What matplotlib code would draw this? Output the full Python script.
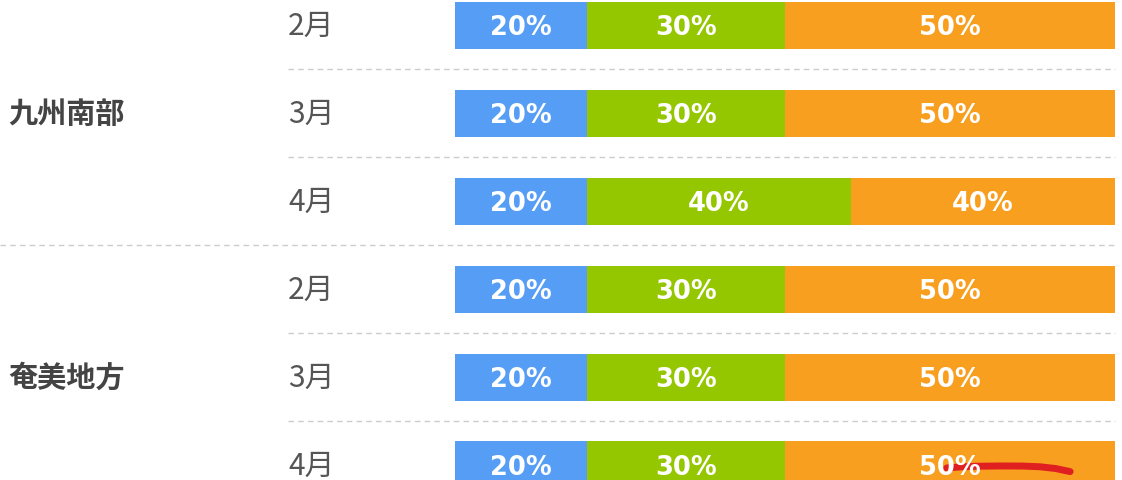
import matplotlib
matplotlib.use("Agg")
import matplotlib.pyplot as plt
import numpy as np

plt.rcParams["font.family"] = ["Noto Sans CJK JP", "DejaVu Sans"]

# data
regions = ["九州南部", "奄美地方"]
months = ["2月", "3月", "4月"]
rows = [("九州南部", "2月"), ("九州南部", "3月"), ("九州南部", "4月"),
        ("奄美地方", "2月"), ("奄美地方", "3月"), ("奄美地方", "4月")]
low = [20, 20, 20, 20, 20, 20]
normal = [30, 30, 40, 30, 30, 30]
high = [50, 50, 40, 50, 50, 50]

colors = ["#559df5", "#95c700", "#f89f1f"]

fig = plt.figure(figsize=(11.22, 4.81), dpi=100)
ax = fig.add_axes([0, 0, 1, 1])
# 660px == 100%, bars start at 455px
ax.set_xlim(-455 / 6.6, (1122 - 455) / 6.6)
row_px = 87.9
ax.set_ylim((481 - 26.5) / row_px, -26.5 / row_px)
ax.axis("off")

y = np.arange(len(rows))
left = np.zeros(len(rows))
for vals, c in zip([low, normal, high], colors):
    vals = np.array(vals)
    ax.barh(y, vals, left=left, height=0.535, color=c, edgecolor="none")
    for yi, l, v in zip(y, left, vals):
        ax.text(l + v / 2, yi + 0.02, f"{v}%", ha="center", va="center",
                color="white", fontsize=18.5, fontweight="bold",
                family="DejaVu Sans")
    left = left + vals

# month labels
for yi, (reg, mon) in zip(y, rows):
    ax.text(-25.3, yi, mon, ha="left", va="center", color="#555555",
            fontsize=21.5)

# region labels
for i, reg in enumerate(regions):
    ax.text(-67.7, i * 3 + 1, reg, ha="left", va="center", color="#444444",
            fontsize=21, fontweight="bold")

# separators
for yi in y[:-1]:
    x0 = -68.94 if (yi + 1) % 3 == 0 else -25.3
    ax.plot([x0, 100], [yi + 0.5, yi + 0.5], color="#cccccc", lw=1,
            ls=(0, (4, 3)))

# red scribble annotation
scribble_x = [74.5, 76.5, 79, 82.6, 86, 88.6, 91, 93.2]
scribble_y = [5.034, 5.022, 5.014, 5.011, 5.012, 5.02, 5.04, 5.075]
ax.plot(scribble_x, scribble_y, color="#e02020", lw=5,
        solid_capstyle="round", solid_joinstyle="round")

fig.savefig("out.png", dpi=100)
